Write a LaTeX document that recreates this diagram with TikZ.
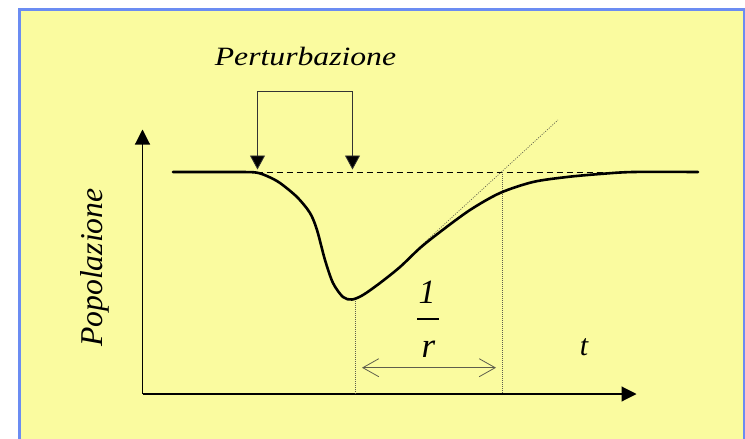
\documentclass[tikz,border=0pt]{standalone}
\usepackage{fontspec}
\setmainfont{Liberation Serif}[ItalicFont={Liberation Serif Italic}]
\newfontfamily\lserif{Liberation Serif Italic}
\usepackage{tikz}
\usetikzlibrary{arrows.meta,calc,positioning}
\definecolor{frame}{HTML}{6B8CF2}
\definecolor{paper}{HTML}{FAFB9F}
\definecolor{guide}{HTML}{5E5E4C}
\tikzset{
  axis/.style={draw=black,line width=1.1pt,-{Triangle[length=15pt,width=15pt]}},
  curvepop/.style={draw=black,line width=2.6pt,line join=round,line cap=round},
  eqline/.style={draw=black,line width=1pt,dash pattern=on 6pt off 4pt},
  tangent/.style={draw=guide,line width=.7pt,dash pattern=on 1pt off 1.4pt},
  drop/.style={draw=guide,line width=.9pt,dash pattern=on 1pt off 1pt},
  kick/.style={draw=black!80,line width=.8pt,{Triangle[length=14pt,width=15pt,fill=black]}-{Triangle[length=14pt,width=15pt,fill=black]}},
  span/.style={draw=guide,line width=.8pt,{Straight Barb[length=16pt,width=18pt]}-{Straight Barb[length=16pt,width=18pt]}},
  lbl/.style={inner sep=0pt,anchor=base}
}

\begin{document}
\begin{tikzpicture}[x=1pt,y=-1pt]
  \useasboundingbox (0,0) rectangle (745,439);
  \fill[white] (0,0) rectangle (745,439);
  \draw[draw=frame,fill=paper,line width=3pt] (19.2,9.7) rectangle (744.6,460);
  % axes
  \coordinate (O) at (142.5,394);
  \coordinate (ytop) at (142.5,129.5);
  \coordinate (xend) at (636.5,394);
  \draw[axis] (O) -- (ytop);
  \draw[axis] (O) -- (xend);
  % equilibrium, tangent and guides
  \coordinate (start) at (256.5,172);
  \coordinate (eqend) at (640,172);
  \coordinate (low) at (355,299);
  \coordinate (back) at (502,172);
  \coordinate (tg0) at (418,248.5);
  \coordinate (tg1) at (558,120);
  \draw[eqline] (start) -- (eqend);
  \draw[tangent] (tg0) -- (tg1);
  \draw[drop] (low) -- (low|-O);
  \draw[drop] (back) -- (back|-O);
  % population curve
  \draw[curvepop] plot[smooth,tension=.5] coordinates {
    (173,172) (200,172) (240,172) (256.5,172.6) (268,176.5) (280,183) (297,197)
    (310,213) (317,230) (325,260) (333,283) (343,297) (352,299.5) (363,295)
    (380,283) (400,267) (420,248) (440,232) (470,210) (500,193) (533,182)
    (567,177) (600,174) (633,172) (698,172)};
  % perturbation
  \coordinate (kl) at (257.5,169.5);
  \coordinate (kr) at (352.5,169.5);
  \draw[kick] (kl) -- ++(0,-78.5) -| (kr);
  \node[lbl,font=\lserif\fontsize{26.4}{30}\selectfont] (pert) at (305.5,65.5) {\scalebox{1.2}[1]{Perturbazione}};
  % labels
  \node[lbl,rotate=90,font=\lserif\fontsize{31.7}{34}\selectfont] (pop) at (102.7,267.5) {Popolazione};
  \node[lbl,font=\lserif\fontsize{30}{32}\selectfont] (time) at (584,355) {t};
  \node[lbl,font=\lserif\fontsize{34}{36}\selectfont] (num) at (427,303) {1};
  \node[lbl,font=\lserif\fontsize{35}{36}\selectfont] (den) at (428.5,357) {r};
  \draw[line width=1.6pt] (417,319) -- (439,319);
  % recovery time
  \coordinate (sa) at (362,367.7);
  \coordinate (sb) at (496,367.7);
  \draw[span] (sa) -- (sb);
\end{tikzpicture}
\end{document}
